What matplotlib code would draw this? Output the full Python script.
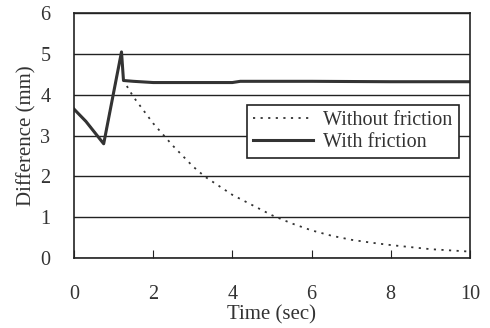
import matplotlib
matplotlib.use("Agg")
import matplotlib.pyplot as plt

t_fric = [0, 0.3, 0.75, 1.2, 1.25, 1.5, 2.0, 3.0, 4.0, 4.2, 6.0, 8.0, 10.0]
d_fric = [3.65, 3.35, 2.8, 5.05, 4.35, 4.33, 4.3, 4.3, 4.3, 4.33, 4.33, 4.32, 4.32]

t_free = [0, 0.3, 0.75, 1.2, 1.25, 1.5, 2.0, 2.5, 3.0, 3.3, 4.0, 4.5, 5.0, 5.5,
          6.0, 6.5, 7.0, 7.5, 8.0, 8.5, 9.0, 9.5, 10.0]
d_free = [3.65, 3.35, 2.8, 5.05, 4.35, 3.95, 3.3, 2.75, 2.25, 2.0, 1.55, 1.3,
          1.05, 0.85, 0.68, 0.55, 0.45, 0.38, 0.32, 0.27, 0.22, 0.19, 0.16]

plt.rcParams['font.family'] = 'serif'
plt.rcParams['font.serif'] = ['Liberation Serif']
plt.rcParams['font.size'] = 14.5

fig = plt.figure(figsize=(4.9, 3.28), dpi=100)
ax = fig.add_axes([0.151, 0.213, 0.808, 0.747])

ax.plot(t_free, d_free, color='#333333', lw=1.3, linestyle=(0, (1.2, 3)),
        label='Without friction')
ax.plot(t_fric, d_fric, color='#333333', lw=2.2, label='With friction')

ax.set_xlim(0, 10)
ax.set_ylim(0, 6)
ax.set_xticks(range(0, 11, 2))
ax.set_yticks(range(0, 7))
ax.grid(axis='y', color='#222222', lw=1)
ax.tick_params(axis='x', direction='in', length=6, pad=19, color='#222222',
               labelcolor='#333333')
ax.tick_params(axis='y', length=0, pad=17, labelcolor='#333333')
for s in ax.spines.values():
    s.set_color('#222222')
    s.set_linewidth(1.2)

ax.set_xlabel('Time (sec)', labelpad=1, fontsize=15, color='#333333')
ax.set_ylabel('Difference (mm)', labelpad=3, fontsize=15, color='#333333')

leg = ax.legend(loc='upper right', bbox_to_anchor=(0.997, 0.668), fancybox=False,
                framealpha=1, edgecolor='#222222', handlelength=3.0,
                handletextpad=0.5, borderpad=0.3, labelspacing=0.15,
                fontsize=14.5)
leg.get_frame().set_linewidth(1.2)
for txt in leg.get_texts():
    txt.set_color('#333333')

fig.savefig('out.png', dpi=100)
